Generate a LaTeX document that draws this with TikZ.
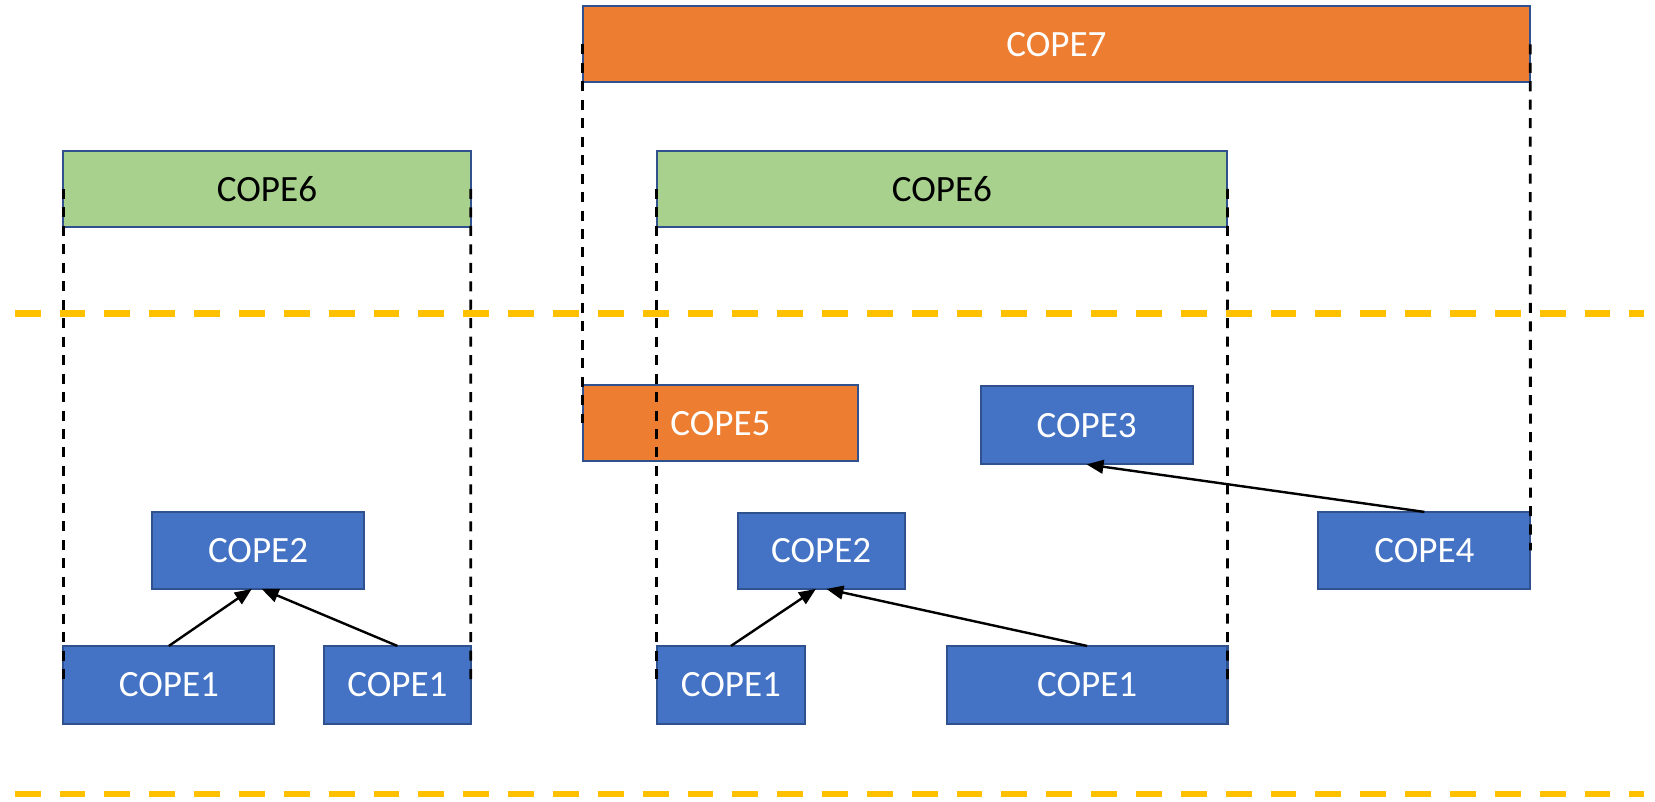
\documentclass[tikz,border=0pt]{standalone}
\usepackage{fontspec}
\setmainfont{Carlito}
\usetikzlibrary{arrows.meta}

\definecolor{boxblue}{HTML}{4472C4}
\definecolor{boxedge}{HTML}{2F528F}
\definecolor{boxorange}{HTML}{ED7D31}
\definecolor{boxgreen}{HTML}{A9D18E}
\definecolor{layerline}{HTML}{FFC000}

\tikzset{
  cbox/.style={draw=boxedge, line width=1.1pt, rectangle, inner sep=0pt, outer sep=0pt,
    anchor=north west, font=\fontsize{20}{24}\selectfont, text=white},
  bluebox/.style={cbox, fill=boxblue},
  orangebox/.style={cbox, fill=boxorange},
  greenbox/.style={cbox, fill=boxgreen, text=black},
  span/.style={draw=black, line width=1.5pt, dash pattern=on 0.19cm off 0.16cm},
  layer/.style={draw=layerline, line width=3.4pt, dash pattern=on 0.49cm off 0.36cm},
  link/.style={draw=black, line width=1.3pt, -{Triangle[length=0.32cm,width=0.26cm]}}
}

\begin{document}
\begin{tikzpicture}[x=0.02cm, y=-0.02cm]
  \useasboundingbox (0,0) rectangle (1568,759);

  % layer separators
  \coordinate (l1a) at (14,297);  \coordinate (l1b) at (1558,297);
  \coordinate (l2a) at (14,752);  \coordinate (l2b) at (1558,752);
  \draw[layer] (l1a) -- (l1b);
  \draw[layer] (l2a) -- (l2b);

  % upper boxes
  \node[orangebox, minimum width=17.96cm, minimum height=1.44cm] (cope7)  at (552,6)   {COPE7};
  \node[greenbox,  minimum width=7.72cm,  minimum height=1.44cm] (cope6a) at (60,143)  {COPE6};
  \node[greenbox,  minimum width=10.82cm, minimum height=1.44cm] (cope6b) at (622,143) {COPE6};

  % middle boxes
  \node[orangebox, minimum width=5.22cm, minimum height=1.44cm] (cope5)  at (552,365)  {COPE5};
  \node[bluebox,   minimum width=4.02cm, minimum height=1.48cm] (cope3)  at (929,366)  {COPE3};
  \node[bluebox,   minimum width=4.02cm, minimum height=1.46cm] (cope2a) at (144,485)  {COPE2};
  \node[bluebox,   minimum width=3.16cm, minimum height=1.44cm] (cope2b) at (699,486)  {COPE2};
  \node[bluebox,   minimum width=4.02cm, minimum height=1.46cm] (cope4)  at (1249,485) {COPE4};

  % bottom boxes
  \node[bluebox, minimum width=4.00cm, minimum height=1.48cm] (cope1a) at (60,612)  {COPE1};
  \node[bluebox, minimum width=2.78cm, minimum height=1.48cm] (cope1b) at (307,612) {COPE1};
  \node[bluebox, minimum width=2.82cm, minimum height=1.48cm] (cope1c) at (622,612) {COPE1};
  \node[bluebox, minimum width=5.32cm, minimum height=1.48cm] (cope1d) at (897,612) {COPE1};

  % extents of the composite boxes
  \draw[span] (cope6a.west) -- (cope1a.west);
  \draw[span] (cope6a.east) -- (cope1b.east);
  \draw[span] (cope6b.west) -- (cope1c.west);
  \draw[span] (cope6b.east) -- (cope1d.east);
  \draw[span] (cope7.west)  -- (cope5.west);
  \draw[span] (cope7.east)  -- (cope4.east);

  % dependencies
  \draw[link] (cope1a.north) -- ([xshift=-0.12cm]cope2a.south);
  \draw[link] (cope1b.north) -- ([xshift=0.07cm]cope2a.south);
  \draw[link] (cope1c.north) -- ([xshift=-0.1cm]cope2b.south);
  \draw[link] (cope1d.north) -- ([xshift=0.1cm]cope2b.south);
  \draw[link] (cope4.north)  -- (cope3.south);
\end{tikzpicture}
\end{document}
